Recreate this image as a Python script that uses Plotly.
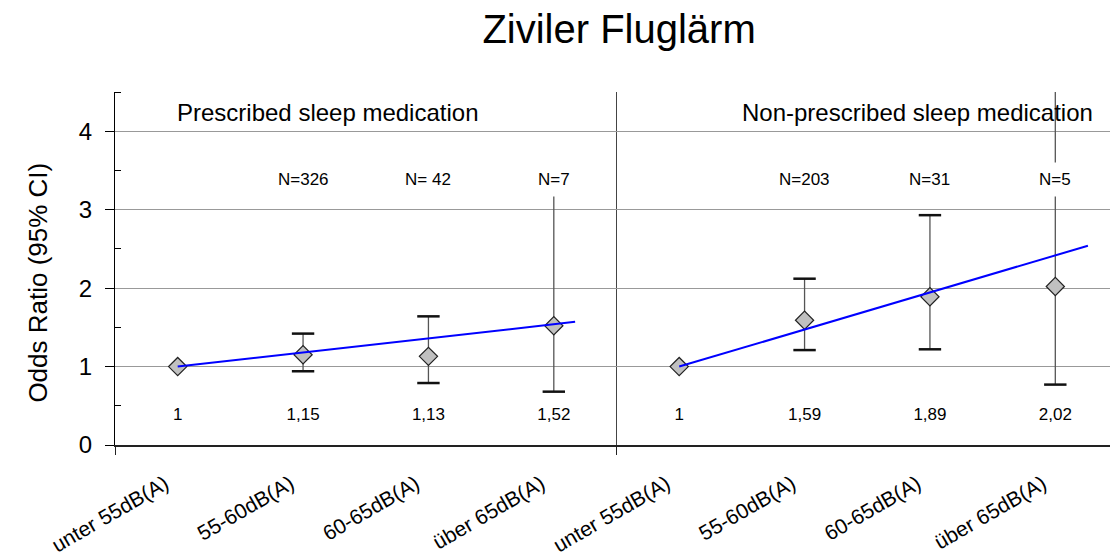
import plotly.graph_objects as go

# ---------------- data ----------------
categories = ["unter 55dB(A)", "55-60dB(A)", "60-65dB(A)", "über 65dB(A)"]
panels = ["Prescribed sleep medication", "Non-prescribed sleep medication"]

or_presc = [1.0, 1.15, 1.13, 1.52]
lo_presc = [None, 0.94, 0.79, 0.68]
hi_presc = [None, 1.42, 1.64, 3.30]
n_presc = ["", "N=326", "N= 42", "N=7"]

or_nonpresc = [1.0, 1.59, 1.89, 2.02]
lo_nonpresc = [None, 1.21, 1.22, 0.77]
hi_nonpresc = [None, 2.12, 2.93, 4.61]
n_nonpresc = ["", "N=203", "N=31", "N=5"]

# hand-drawn trend lines (x in category units from panel start, y = odds ratio)
trend_presc_x = [0.0, 3.17]
trend_presc_y = [1.0, 1.57]
trend_nonpresc_x = [0.0, 3.26]
trend_nonpresc_y = [1.0, 2.54]

y_ticks = [0, 1, 2, 3, 4]

# ---------------- figure ----------------
FONT = "Liberation Sans, Arial, sans-serif"
fig = go.Figure()

series = [
    (or_presc, lo_presc, hi_presc, n_presc, trend_presc_x, trend_presc_y),
    (or_nonpresc, lo_nonpresc, hi_nonpresc, n_nonpresc, trend_nonpresc_x, trend_nonpresc_y),
]

annotations = []
for p, (ors, lo, hi, ns, tx, ty) in enumerate(series):
    off = 4 * p
    xs = [i + off for i in range(len(ors))]
    idx = [i for i in range(len(ors)) if lo[i] is not None]
    ex = [xs[i] for i in idx]
    ey = [ors[i] for i in idx]
    up = [hi[i] - ors[i] for i in idx]
    dn = [ors[i] - lo[i] for i in idx]
    # CI stems
    fig.add_trace(go.Scatter(
        x=ex, y=ey, mode="markers",
        marker=dict(size=1, color="rgba(0,0,0,0)"),
        error_y=dict(type="data", symmetric=False, array=up, arrayminus=dn,
                     width=0, thickness=1.3, color="#555555"),
        cliponaxis=False, showlegend=False, hoverinfo="skip"))
    # CI caps
    fig.add_trace(go.Scatter(
        x=ex + ex, y=[lo[i] for i in idx] + [hi[i] for i in idx], mode="markers",
        marker=dict(symbol="line-ew", size=16, line=dict(width=2.5, color="#111111")),
        cliponaxis=True, showlegend=False, hoverinfo="skip"))
    # diamonds
    fig.add_trace(go.Scatter(
        x=xs, y=ors, mode="markers",
        marker=dict(symbol="diamond", size=14, color="#c0c0c0",
                    line=dict(width=1.2, color="#222222")),
        showlegend=False))
    # trend line
    fig.add_trace(go.Scatter(
        x=[off + v for v in tx], y=ty, mode="lines",
        line=dict(color="#0000ff", width=2), showlegend=False))
    # value labels
    fig.add_trace(go.Scatter(
        x=xs, y=[0.37] * len(xs), mode="text",
        text=[f"{v:g}".replace(".", ",") for v in ors],
        textfont=dict(family=FONT, size=17, color="#000000"),
        showlegend=False, hoverinfo="skip"))
    # N labels
    for i, n in enumerate(ns):
        if n:
            annotations.append(dict(
                x=xs[i], y=3.39, xref="x", yref="y", text=n, showarrow=False,
                font=dict(family=FONT, size=17, color="#000000"),
                bgcolor="#ffffff", borderpad=7))

# panel headers
annotations.append(dict(
    x=-0.02, y=4.24, xref="x", yref="y", text=panels[0], showarrow=False,
    font=dict(family=FONT, size=24, color="#000000"), xanchor="left", yanchor="middle"))
annotations.append(dict(
    x=7.32, y=4.24, xref="x", yref="y", text=panels[1], showarrow=False,
    font=dict(family=FONT, size=24, color="#000000"), xanchor="right", yanchor="middle"))

# y axis title
annotations.append(dict(
    x=0, xref="paper", xshift=-77, y=0.46, yref="paper", text="Odds Ratio (95% CI)",
    textangle=-90, showarrow=False, xanchor="center", yanchor="middle",
    font=dict(family=FONT, size=26, color="#000000")))

# page body adds an 8px offset: figure is sized/placed so the plot lands where the reference has it
fig.update_layout(
    width=1110, height=552,
    margin=dict(l=107, r=0, t=84, b=115, autoexpand=False),
    paper_bgcolor="#ffffff", plot_bgcolor="#ffffff",
    title=dict(text="Ziviler Fluglärm", x=0.5505, xanchor="center", y=0.962, yanchor="middle",
               yref="container", automargin=False,
               font=dict(family=FONT, size=40, color="#000000")),
    annotations=annotations,
    showlegend=False,
)

fig.update_xaxes(
    range=[-0.5, 7.5], tickmode="array", tickvals=[v - 0.1 for v in range(8)],
    ticktext=categories * 2,
    tickangle=-30, ticks="", showgrid=False, zeroline=False, automargin=False,
    showline=True, linecolor="#222222", linewidth=1.5,
    tickfont=dict(family=FONT, size=21, color="#000000"),
    ticklabelstandoff=17,
    minor=dict(tickmode="array", tickvals=[-0.5, 3.5, 7.5], ticks="outside", ticklen=8,
               tickcolor="#222222", tickwidth=1, showgrid=True, gridcolor="#444444", gridwidth=1),
)
fig.update_yaxes(
    range=[0, 4.5], tickmode="array", tickvals=y_ticks, ticks="outside", ticklen=9,
    tickcolor="#000000", showgrid=True, gridcolor="#999999", gridwidth=1, zeroline=False,
    showline=True, linecolor="#000000", linewidth=1, automargin=False,
    tickfont=dict(family=FONT, size=24, color="#000000"),
    ticklabelstandoff=8,
    minor=dict(tickmode="array", tickvals=[0.5, 1.5, 2.5, 3.5, 4.5], ticks="inside", ticklen=6,
               tickcolor="#000000", showgrid=False),
)

fig.write_html("out.html")
